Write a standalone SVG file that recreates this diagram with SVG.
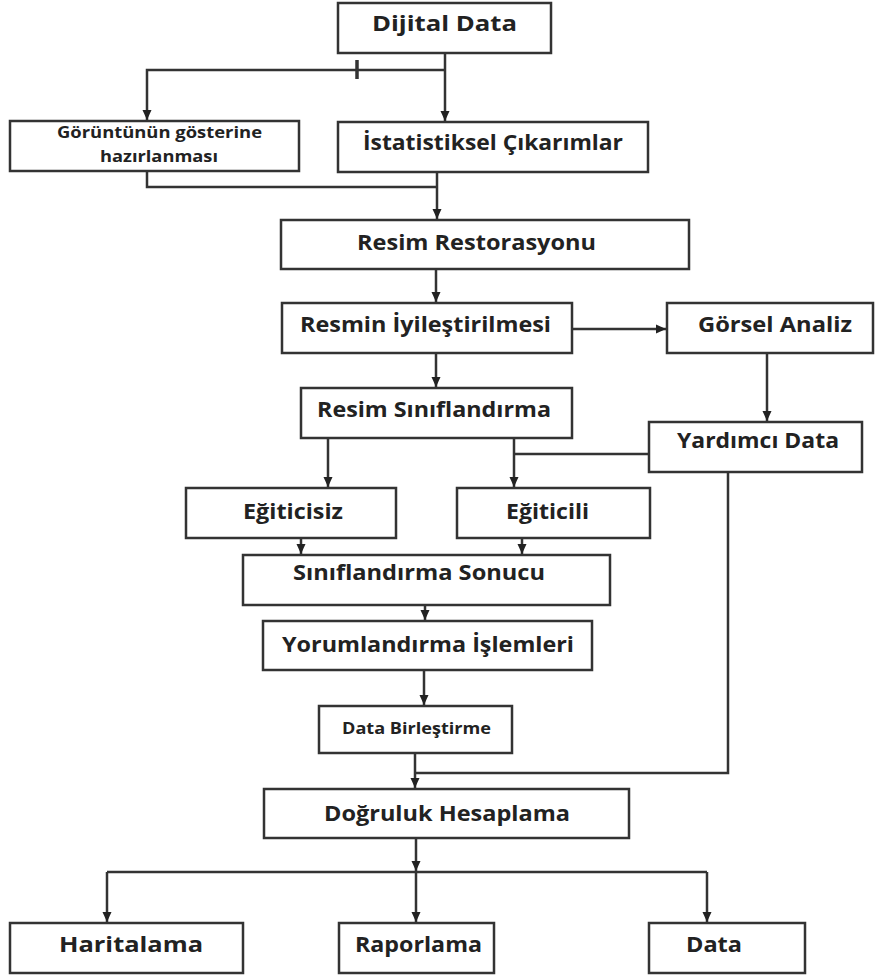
<svg xmlns="http://www.w3.org/2000/svg" width="876" height="978" viewBox="0 0 876 978">
<style>
.box{fill:#fff;stroke:#333;stroke-width:2.5}
.t{font-family:"Open Sans","Liberation Sans",sans-serif;font-weight:700;font-size:22px;fill:#222}
.s{font-size:16px}
.c{fill:none;stroke:#333;stroke-width:2.5}
.a{marker-end:url(#arr)}
</style>
<defs>
<marker id="arr" markerUnits="userSpaceOnUse" markerWidth="12" markerHeight="12" viewBox="0 0 12 12" refX="11" refY="6" orient="auto">
<path d="M1,1.5 L11,6 L1,10.5 Z" fill="#222"/>
</marker>
</defs>
<rect width="876" height="978" fill="#fff"/>
<g id="connectors">
<path class="c a" d="M445,53 V121"/>
<path class="c a" d="M445,70 H147 V120"/>
<path class="c" style="stroke-width:3.5" d="M357,60 V79"/>
<path class="c" d="M147,171 V187 H437"/>
<path class="c a" d="M437,172 V219"/>
<path class="c a" d="M436,269 V302"/>
<path class="c a" d="M571,329 H666"/>
<path class="c a" d="M436,353 V387"/>
<path class="c a" d="M767,353 V421"/>
<path class="c a" d="M328,438 V487"/>
<path class="c a" d="M514,438 V487"/>
<path class="c" d="M649,454 H514"/>
<path class="c a" d="M301,538 V554"/>
<path class="c a" d="M522,538 V554"/>
<path class="c a" d="M425,605 V620"/>
<path class="c a" d="M424,670 V705"/>
<path class="c a" d="M415,753 V788"/>
<path class="c" d="M728,472 V773 H415"/>
<path class="c a" d="M416,838 V871"/>
<path class="c" d="M107,872 H707"/>
<path class="c a" d="M107,872 V922"/>
<path class="c a" d="M416,872 V922"/>
<path class="c a" d="M707,872 V922"/>
</g>
<g id="dijital"><rect class="box" x="338" y="3" width="213" height="50"/><text class="t" x="372" y="31" textLength="145" lengthAdjust="spacingAndGlyphs">Dijital Data</text></g>
<g id="goruntu"><rect class="box" x="10" y="121" width="289" height="50"/><text class="t s" x="57" y="138" textLength="205" lengthAdjust="spacingAndGlyphs">Görüntünün gösterine</text><text class="t s" x="100" y="162" textLength="118" lengthAdjust="spacingAndGlyphs">hazırlanması</text></g>
<g id="istatistik"><rect class="box" x="338" y="122" width="310" height="50"/><text class="t" x="363" y="150" textLength="260" lengthAdjust="spacingAndGlyphs">İstatistiksel Çıkarımlar</text></g>
<g id="restorasyon"><rect class="box" x="281" y="220" width="408" height="49"/><text class="t" x="357" y="250" textLength="239" lengthAdjust="spacingAndGlyphs">Resim Restorasyonu</text></g>
<g id="iyilestirme"><rect class="box" x="282" y="303" width="290" height="50"/><text class="t" x="300" y="332" textLength="251" lengthAdjust="spacingAndGlyphs">Resmin İyileştirilmesi</text></g>
<g id="gorsel"><rect class="box" x="667" y="303" width="206" height="50"/><text class="t" x="698" y="332" textLength="154" lengthAdjust="spacingAndGlyphs">Görsel Analiz</text></g>
<g id="siniflandirma"><rect class="box" x="301" y="388" width="271" height="50"/><text class="t" x="317" y="417" textLength="234" lengthAdjust="spacingAndGlyphs">Resim Sınıflandırma</text></g>
<g id="yardimci"><rect class="box" x="649" y="422" width="213" height="50"/><text class="t" x="677" y="448" textLength="162" lengthAdjust="spacingAndGlyphs">Yardımcı Data</text></g>
<g id="egiticisiz"><rect class="box" x="186" y="488" width="210" height="50"/><text class="t" x="243" y="519" textLength="100" lengthAdjust="spacingAndGlyphs">Eğiticisiz</text></g>
<g id="egiticili"><rect class="box" x="457" y="488" width="193" height="50"/><text class="t" x="506" y="519" textLength="83" lengthAdjust="spacingAndGlyphs">Eğiticili</text></g>
<g id="sonuc"><rect class="box" x="243" y="555" width="367" height="50"/><text class="t" x="293" y="580" textLength="252" lengthAdjust="spacingAndGlyphs">Sınıflandırma Sonucu</text></g>
<g id="yorum"><rect class="box" x="263" y="621" width="329" height="49"/><text class="t" x="282" y="652" textLength="292" lengthAdjust="spacingAndGlyphs">Yorumlandırma İşlemleri</text></g>
<g id="birlestirme"><rect class="box" x="319" y="706" width="193" height="47"/><text class="t s" x="342" y="734" textLength="149" lengthAdjust="spacingAndGlyphs">Data Birleştirme</text></g>
<g id="dogruluk"><rect class="box" x="264" y="789" width="365" height="49"/><text class="t" x="324" y="821" textLength="246" lengthAdjust="spacingAndGlyphs">Doğruluk Hesaplama</text></g>
<g id="haritalama"><rect class="box" x="10" y="923" width="233" height="50"/><text class="t" x="59" y="952" textLength="144" lengthAdjust="spacingAndGlyphs">Haritalama</text></g>
<g id="raporlama"><rect class="box" x="339" y="923" width="155" height="50"/><text class="t" x="355" y="952" textLength="127" lengthAdjust="spacingAndGlyphs">Raporlama</text></g>
<g id="data"><rect class="box" x="649" y="923" width="156" height="50"/><text class="t" x="686" y="952" textLength="56" lengthAdjust="spacingAndGlyphs">Data</text></g>
</svg>
